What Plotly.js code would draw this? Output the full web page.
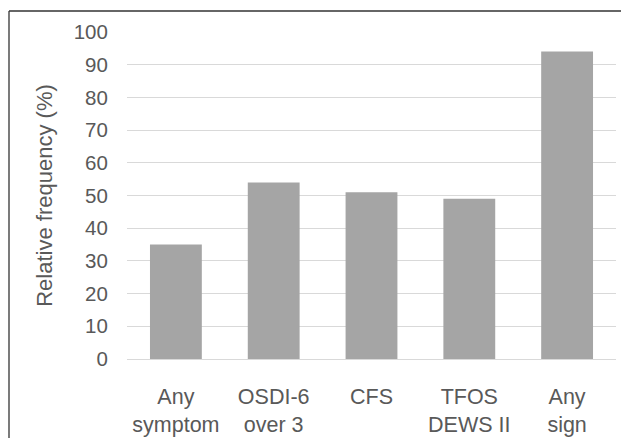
<!DOCTYPE html>
<html>
<head>
<meta charset="utf-8">
<script src="https://cdn.plot.ly/plotly-3.0.1.min.js"></script>
<style>
  html, body { margin: 0; padding: 0; background: #fff; }
  #chart { width: 621px; height: 438px; }
</style>
</head>
<body>
<div id="chart"></div>
<script>
const categories = ["Any<br>symptom", "OSDI-6<br>over 3", "CFS", "TFOS<br>DEWS II", "Any<br>sign"];
const values = [35, 54, 51, 49, 94];
const yTicks = [0, 10, 20, 30, 40, 50, 60, 70, 80, 90, 100];

const textColor = "#595959";
const fontFamily = "Liberation Sans, Arial, sans-serif";

const trace = {
  type: "bar",
  x: categories,
  y: values,
  marker: { color: "#a5a5a5" },
  hoverinfo: "skip"
};

const layout = {
  width: 621,
  height: 438,
  margin: { l: 127, r: 5, t: 32, b: 79, pad: 0 },
  paper_bgcolor: "#ffffff",
  plot_bgcolor: "#ffffff",
  bargap: 0.47,
  showlegend: false,
  font: { family: fontFamily, color: textColor, size: 20 },
  xaxis: {
    type: "category",
    showgrid: false,
    showline: true,
    linecolor: "#d9d9d9",
    linewidth: 1,
    zeroline: false,
    ticks: "outside",
    ticklen: 18,
    tickcolor: "rgba(0,0,0,0)",
    tickfont: { size: 21.5, color: textColor, family: fontFamily }
  },
  yaxis: {
    range: [0, 100],
    tickvals: yTicks,
    ticktext: yTicks.map(String),
    showgrid: true,
    gridcolor: "#d9d9d9",
    gridwidth: 1,
    zeroline: false,
    showline: false,
    ticks: "outside",
    ticklen: 14,
    tickcolor: "rgba(0,0,0,0)",
    tickfont: { size: 20.5, color: textColor, family: fontFamily },
    title: {
      text: "Relative frequency (%)",
      font: { size: 22, color: textColor, family: fontFamily },
      standoff: 14
    }
  },
  shapes: [
    { type: "line", xref: "paper", yref: "paper", x0: (9 - 127) / 489, x1: 1.1, y0: (359 - 11) / 327, y1: (359 - 11) / 327, line: { color: "#333333", width: 1.3 } },
    { type: "line", xref: "paper", yref: "paper", x0: (9 - 127) / 489, x1: (9 - 127) / 489, y0: (359 - 11) / 327, y1: -0.3, line: { color: "#333333", width: 1.3 } }
  ]
};

Plotly.newPlot("chart", [trace], layout, { displayModeBar: false, staticPlot: true });
</script>
</body>
</html>
